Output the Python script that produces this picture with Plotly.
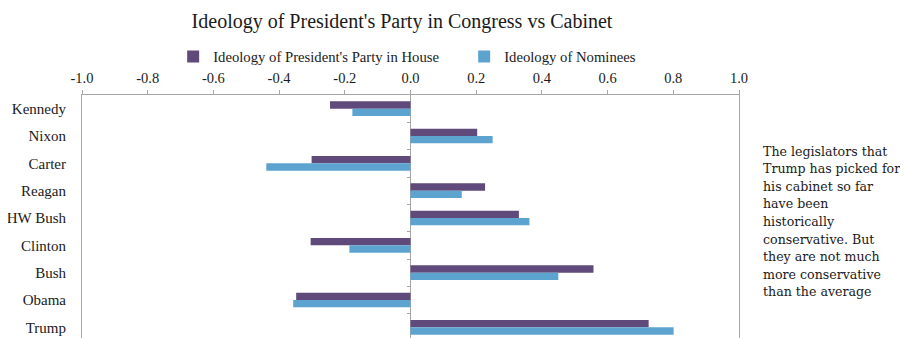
import plotly.graph_objects as go

presidents = ["Kennedy", "Nixon", "Carter", "Reagan", "HW Bush", "Clinton", "Bush", "Obama", "Trump"]
house = [-0.245, 0.203, -0.301, 0.227, 0.330, -0.304, 0.557, -0.348, 0.725]
nominees = [-0.177, 0.250, -0.439, 0.156, 0.362, -0.186, 0.450, -0.357, 0.801]
x_ticks = [-1.0, -0.8, -0.6, -0.4, -0.2, 0.0, 0.2, 0.4, 0.6, 0.8, 1.0]
x_tick_labels = ["-1.0", "-0.8", "-0.6", "-0.4", "-0.2", "0.0", "0.2", "0.4", "0.6", "0.8", "1.0"]
note_lines = ["The legislators that", "Trump has picked for", "his cabinet so far", "have been",
              "historically", "conservative. But", "they are not much", "more conservative",
              "than the average"]

PURPLE = "#604A7B"
BLUE = "#5DA3CF"
GRAY = "#a6a6a6"
TXT = "#1a1a1a"
SERIF = "Liberation Serif, Times New Roman, serif"

# page body has an 8px default margin: lay out in window pixels minus 8
OFF = 8
W, H = 908, 330
L, T = 82 - OFF, 95 - OFF
PR, PB = 739 - OFF, 338 - OFF
R, B = W - PR, H - PB
PW, PH = PR - L, PB - T

fig = go.Figure()
fig.add_trace(go.Bar(y=presidents, x=house, orientation="h", name="Ideology of President's Party in House",
                     marker=dict(color=PURPLE, line=dict(width=0))))
fig.add_trace(go.Bar(y=presidents, x=nominees, orientation="h", name="Ideology of Nominees",
                     marker=dict(color=BLUE, line=dict(width=0))))
# invisible helper trace so the tick axis at x=0 is drawn
fig.add_trace(go.Scatter(x=[0], y=[0], yaxis="y2", mode="markers", marker=dict(opacity=0),
                         showlegend=False, hoverinfo="skip"))

n = len(presidents)
yrange = [n - 0.61, -0.5]
annotations = []
for i, line in enumerate(note_lines):
    ypix = 151 + i * 17.6 - OFF
    annotations.append(dict(text=line, xref="paper", yref="paper", x=(761 - OFF - L) / PW, xanchor="left",
                            y=1 - (ypix - T) / PH, yanchor="middle", showarrow=False, align="left",
                            font=dict(family="DejaVu Serif, serif", size=12.6, color=TXT)))

fig.update_layout(
    width=W, height=H,
    margin=dict(l=L, r=R, t=T, b=B, autoexpand=False),
    paper_bgcolor="white", plot_bgcolor="white",
    barmode="group", bargap=0.465, bargroupgap=0,
    title=dict(text="Ideology of President's Party in Congress vs Cabinet",
               x=(402 - OFF) / W, xanchor="center", y=1 - (21 - OFF) / H, yanchor="middle",
               font=dict(family=SERIF, size=20, color=TXT)),
    legend=dict(orientation="h", x=(134 - OFF) / W, xanchor="left", y=1 - (57 - OFF) / H, yref="container",
                yanchor="middle", font=dict(family=SERIF, size=14.7, color=TXT),
                bgcolor="rgba(0,0,0,0)", traceorder="normal", itemwidth=30,
                entrywidth=246, entrywidthmode="pixels"),
    xaxis=dict(side="top", range=[-1.0, 1.0], tickvals=x_ticks, ticktext=x_tick_labels,
               showgrid=False, zeroline=True, zerolinecolor=GRAY, zerolinewidth=1,
               showline=True, linecolor=GRAY, linewidth=1, ticks="outside", ticklen=4,
               tickcolor=GRAY, tickfont=dict(family=SERIF, size=14.5, color=TXT),
               ticklabelstandoff=1, automargin=False, fixedrange=True),
    yaxis=dict(categoryorder="array", categoryarray=presidents, range=yrange,
               showgrid=False, showline=True, linecolor=GRAY, linewidth=1, mirror=True,
               ticks="", ticklabelstandoff=12, automargin=False,
               tickfont=dict(family=SERIF, size=15, color=TXT)),
    yaxis2=dict(overlaying="y", anchor="free", position=0.5, side="left",
                range=yrange, tickvals=[i + 0.5 for i in range(n - 1)],
                showticklabels=False, ticks="outside", ticklen=4, tickcolor=GRAY,
                showgrid=False, zeroline=False, showline=False, automargin=False),
    annotations=annotations,
    showlegend=True,
)

fig.write_html("out.html")
